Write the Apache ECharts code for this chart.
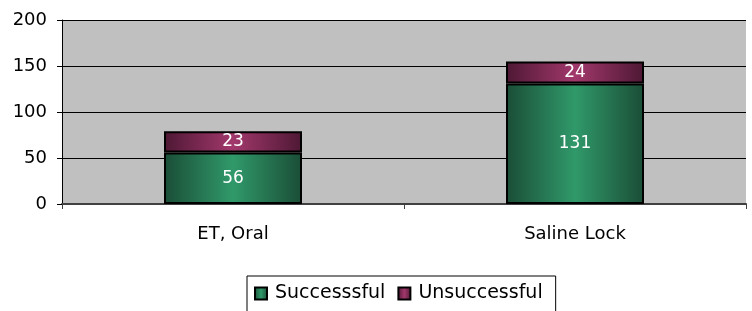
<!DOCTYPE html>
<html lang="en">

<head>
    <meta charset="UTF-8">
    <title>Chart</title>
    <script src="https://cdn.jsdelivr.net/npm/echarts@6/dist/echarts.min.js"></script>
    <style>
        html, body {
            margin: 0;
            padding: 0;
            background: #fff;
        }
        .chart {
            width: 752px;
            height: 311px;
        }
    </style>
</head>

<body>
    <div class="chart" id="chart"></div>

    <script>
        var categories = ['ET, Oral', 'Saline Lock'];
        var successful = [56, 131];
        var unsuccessful = [23, 24];
        var yTicks = [0, 50, 100, 150, 200];

        // dark edges, lighter middle (approximation of the "shine" fill)
        function shine(inner, outer) {
            return {
                type: 'linear', x: 0, y: 0, x2: 1, y2: 0,
                colorStops: [
                    {offset: 0, color: outer},
                    {offset: 0.5, color: inner},
                    {offset: 1, color: outer}
                ]
            };
        }

        var font = 'DejaVu Sans, sans-serif';
        var chart = echarts.init(document.getElementById('chart'));
        chart.setOption({
            animation: false,
            textStyle: {fontFamily: font},
            grid: {
                left: 62, right: 6, top: 20, bottom: 107,
                show: true,
                backgroundColor: '#C0C0C0',
                borderWidth: 0
            },
            legend: {
                left: 247,
                top: 276,
                padding: [8, 13, 12, 7],
                borderColor: '#000',
                borderWidth: 1,
                itemWidth: 12,
                itemHeight: 12,
                itemGap: 12,
                icon: 'rect',
                textStyle: {fontSize: 19, color: '#000', fontFamily: font, padding: [0, 0, 0, 3]},
                data: ['Successsful', 'Unsuccessful']
            },
            xAxis: {
                type: 'category',
                data: categories,
                axisLine: {lineStyle: {color: '#404040', width: 2}},
                axisTick: {show: true, length: 5, lineStyle: {color: '#404040'}},
                axisLabel: {fontSize: 18, color: '#000', margin: 21, fontFamily: font}
            },
            yAxis: {
                type: 'value',
                min: yTicks[0],
                max: yTicks[yTicks.length - 1],
                interval: 50,
                axisLine: {show: true, lineStyle: {color: '#000', width: 1}},
                axisTick: {show: true, length: 5, lineStyle: {color: '#000'}},
                axisLabel: {fontSize: 18, color: '#000', margin: 15, fontFamily: font},
                splitLine: {lineStyle: {color: '#000', width: 1}}
            },
            series: [{
                name: 'Successsful',
                type: 'bar',
                stack: 'total',
                barWidth: 138,
                data: successful,
                itemStyle: {
                    color: shine('#30996A', '#1A4D36'),
                    borderColor: '#000',
                    borderWidth: 2
                },
                label: {show: true, position: 'inside', color: '#fff', fontSize: 17, fontFamily: font}
            }, {
                name: 'Unsuccessful',
                type: 'bar',
                stack: 'total',
                barWidth: 138,
                data: unsuccessful,
                itemStyle: {
                    color: shine('#A2386C', '#4E1834'),
                    borderColor: '#000',
                    borderWidth: 2
                },
                label: {show: true, position: 'inside', color: '#fff', fontSize: 17, fontFamily: font}
            }]
        });
    </script>
</body>

</html>
